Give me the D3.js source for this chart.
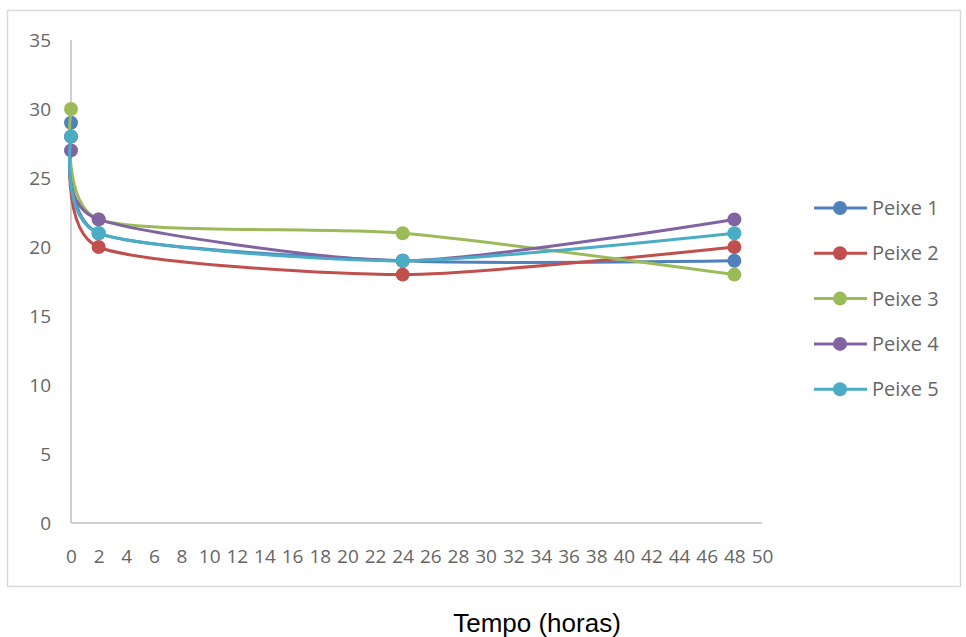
<!DOCTYPE html>
<html>
<head>
<meta charset="utf-8">
<script src="https://d3js.org/d3.v7.min.js"></script>
<style>
  body { margin: 0; background: #fff; }
  .tick line { display: none; }
  .domain { stroke: #bfbfbf; stroke-width: 1.5; }
  .tick text { fill: #666; font-family: "Open Sans", sans-serif; font-size: 19px; }
</style>
</head>
<body>
<script>
// chart values
let hours = [0, 2, 24, 48];
let seriesNames = ["Peixe 1", "Peixe 2", "Peixe 3", "Peixe 4", "Peixe 5"];
let peixe1 = [29, 21, 19, 19];
let peixe2 = [28, 20, 18, 20];
let peixe3 = [30, 22, 21, 18];
let peixe4 = [27, 22, 19, 22];
let peixe5 = [28, 21, 19, 21];
let xTicks = d3.range(0, 51, 2);
let yTicks = [0, 5, 10, 15, 20, 25, 30, 35];
let colors = ["#4f81bd", "#c0504d", "#9bbb59", "#8064a2", "#4bacc6"];

let allValues = [peixe1, peixe2, peixe3, peixe4, peixe5];

let width = 966,
    height = 637;

let svg =
    d3.select("body")
        .append("svg")
        .attr("width", width)
        .attr("height", height);

// chart frame
svg.append("rect")
    .attr("x", 7.5)
    .attr("y", 10.5)
    .attr("width", 953)
    .attr("height", 576)
    .attr("fill", "#fff")
    .attr("stroke", "#d9d9d9")
    .attr("stroke-width", 1.5);

let xScaler =
    d3.scaleLinear()
        .domain([0, 50])
        .range([71, 762]);

let yScaler =
    d3.scaleLinear()
        .domain([0, 35])
        .range([523, 40]);

// axes
svg.append("g")
    .attr("transform", "translate(0,523)")
    .call(d3.axisBottom(xScaler).tickValues(xTicks).tickSize(0).tickPadding(27))
    .call(g => g.selectAll(".domain").attr("d", "M71,0H762"));

svg.append("g")
    .attr("transform", "translate(71,0)")
    .call(d3.axisLeft(yScaler).tickValues(yTicks).tickSize(0).tickPadding(20))
    .call(g => g.selectAll(".domain").attr("d", "M0,40V523"));

svg.append("text")
    .attr("x", 537)
    .attr("y", 632)
    .attr("text-anchor", "middle")
    .attr("font-family", "Liberation Sans, Arial, sans-serif")
    .attr("font-size", 26)
    .attr("fill", "#000")
    .text("Tempo (horas)");

// smoothed lines, a bit tighter than plain catmull-rom so the first drop hugs the axis
let lineMaker =
    d3.line()
        .x((d, i) => xScaler(hours[i]))
        .y(d => yScaler(d))
        .curve(d3.curveCardinal.tension(0.3));

let series =
    svg.selectAll(".series")
        .data(allValues)
        .enter()
        .append("g")
        .attr("class", "series");

series.append("path")
    .attr("d", lineMaker)
    .attr("fill", "none")
    .attr("stroke", (d, i) => colors[i])
    .attr("stroke-width", 3);

series.selectAll("circle")
    .data((d, i) => d.map(v => ({v: v, c: colors[i]})))
    .enter()
    .append("circle")
    .attr("cx", (d, i) => xScaler(hours[i]))
    .attr("cy", d => yScaler(d.v))
    .attr("r", 7)
    .attr("fill", d => d.c);

// legend
let legendArr =
    svg.selectAll(".legend")
        .data(seriesNames)
        .enter()
        .append("g")
        .attr("class", "legend")
        .attr("transform", (d, i) => `translate(0, ${208 + i * 45.3})`);

legendArr.append("line")
    .attr("x1", 814)
    .attr("x2", 867)
    .attr("stroke", (d, i) => colors[i])
    .attr("stroke-width", 3);

legendArr.append("circle")
    .attr("cx", 840)
    .attr("r", 7)
    .attr("fill", (d, i) => colors[i]);

legendArr.append("text")
    .attr("x", 872)
    .attr("dy", "0.35em")
    .attr("font-family", "Open Sans, sans-serif")
    .attr("font-size", 20)
    .attr("fill", "#666")
    .text(d => d);
</script>
</body>
</html>
